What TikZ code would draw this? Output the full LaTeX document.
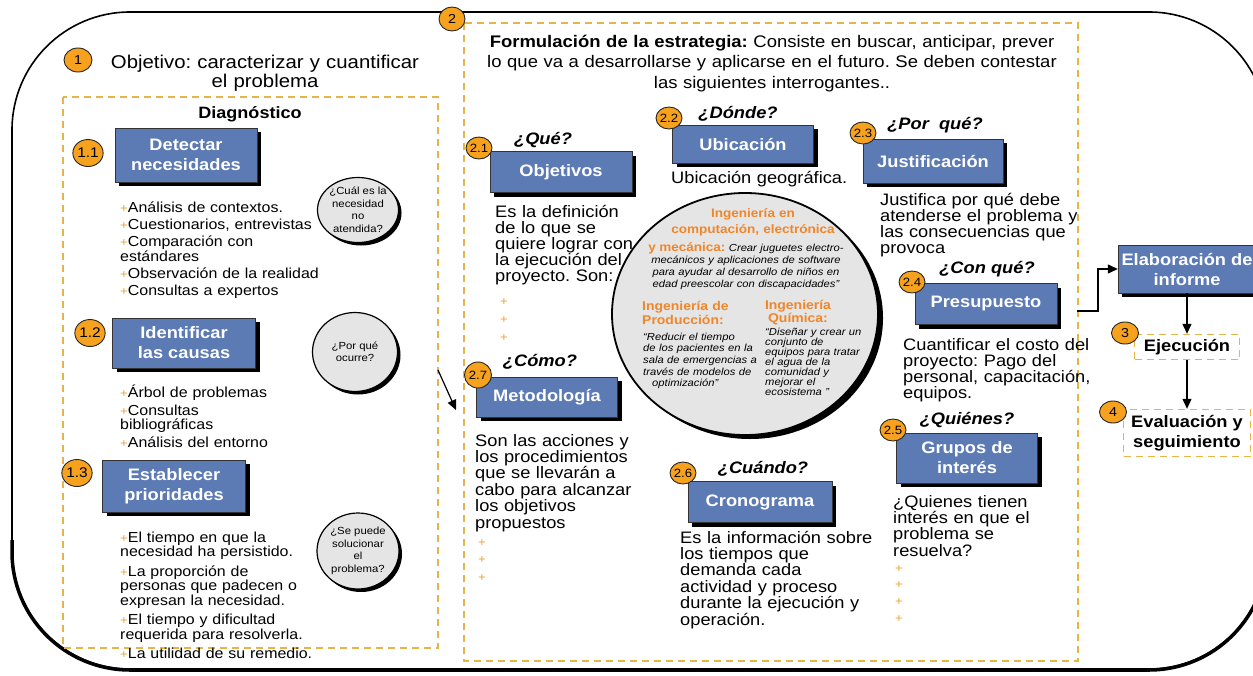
\documentclass[tikz,border=0pt]{standalone}
\usepackage{fontspec}
\setmainfont{Liberation Sans}[FakeStretch=1.1]
\usetikzlibrary{shapes.geometric,shadows,arrows.meta,positioning}

\definecolor{cajaazul}{HTML}{5C7AB4}
\definecolor{numnaranja}{HTML}{F6A21E}
\definecolor{marcooro}{HTML}{E6B548}
\definecolor{masnaranja}{HTML}{E9A43E}
\definecolor{ingnaranja}{HTML}{F0862A}
\definecolor{burbujagris}{HTML}{E5E5E5}

\newcommand{\tam}[2]{\fontsize{#1}{#2}\selectfont}
\newcommand{\mas}{{\color{masnaranja}\tam{12}{12}+}}
\frenchspacing

\begin{document}
\begin{tikzpicture}[x=1pt,y=-1pt,
    caja/.style={rectangle,draw=black!80,fill=cajaazul,text=white,
      font=\tam{16.6}{20}\bfseries,align=center,inner sep=1pt,
      minimum width=142pt,minimum height=41pt,
      drop shadow={shadow xshift=4pt,shadow yshift=-4pt,fill=black,opacity=1}},
    num/.style={ellipse,draw=black!85,line width=0.9pt,fill=numnaranja,
      minimum width=24pt,minimum height=22pt,inner sep=0pt,font=\tam{12}{12}},
    burbuja/.style={ellipse,draw=black,line width=1.2pt,fill=burbujagris,
      align=center,inner sep=0pt,font=\tam{10.3}{12.5},
      drop shadow={shadow xshift=3pt,shadow yshift=-3pt,fill=black,opacity=1}},
    marco/.style={draw=marcooro,line width=1.4pt,dash pattern=on 7pt off 5pt},
    pregunta/.style={anchor=base,font=\tam{16.6}{20}\bfseries\itshape},
    texto/.style={anchor=base west,align=left,text width=300pt,inner sep=0pt},
    centrado/.style={anchor=base,align=center,text width=#1,inner sep=0pt},
    flecha/.style={-{Triangle[length=10pt,width=9pt]},line width=1.2pt}]

  \useasboundingbox (0,0) rectangle (1253,675);

  % contorno general
  \draw[line width=1.6pt,rounded corners=118pt] (12,12) rectangle (1267,669);
  \draw[line width=3.5pt,rounded corners=118pt] (12,540) -- (12,670) -- (1267,670) -- (1267,540);

  % marcos punteados
  \draw[marco] (63,97) rectangle (438,648);
  \draw[marco] (464,23) rectangle (1078,661);

  % 1: diagnostico
  \path (78,60) node(n1) [num,minimum width=28pt,minimum height=24pt,font=\tam{13}{13}] {1}
  (265,68) node(objetivo) [centrado=360pt,font=\tam{18.5}{19}] {Objetivo: caracterizar y cuantificar\\el problema}
  (250,118) node(diagnostico) [anchor=base,font=\tam{16.4}{18}\bfseries] {Diagnóstico};

  \path (88,153) node(n11) [num,minimum width=30pt,minimum height=27pt,font=\tam{14}{14}] {1.1}
  (186,155) node(detectar) [caja,minimum height=54pt] {Detectar\\necesidades}
  (358,210) node(cual) [burbuja,minimum width=80pt,minimum height=65pt] {¿Cuál es la\\necesidad\\no\\atendida?}
  (120,212) node(lista1) [texto,font=\tam{14.5}{15}]
    {\mas Análisis de contextos.\\[2pt]\mas Cuestionarios, entrevistas\\[2pt]\mas Comparación con\\estándares\\[2pt]\mas Observación de la realidad\\[2pt]\mas Consultas a expertos};

  \path (90,333) node(n12) [num,minimum width=30pt,minimum height=27pt,font=\tam{14}{14}] {1.2}
  (184,343) node(identificar) [caja,minimum width=143pt,minimum height=50pt] {Identificar\\las causas}
  (355,352) node(porque) [burbuja,minimum width=85pt,minimum height=79pt] {¿Por qué\\ocurre?}
  (120,397) node(lista2) [texto,font=\tam{14.5}{14}]
    {\mas Árbol de problemas\\[4pt]\mas Consultas\\bibliográficas\\[4pt]\mas Análisis del entorno};

  \path (77,473) node(n13) [num,minimum width=30pt,minimum height=27pt,font=\tam{14}{14}] {1.3}
  (174,486) node(establecer) [caja,minimum width=143pt,minimum height=52pt] {Establecer\\prioridades}
  (358,551) node(sepuede) [burbuja,minimum width=82pt,minimum height=76pt] {¿Se puede\\solucionar\\el\\problema?}
  (120,542) node(lista3) [texto,font=\tam{14.5}{13.5}]
    {\mas El tiempo en que la\\necesidad ha persistido.\\[5pt]\mas La proporción de\\personas que padecen o\\expresan la necesidad.\\[5pt]\mas El tiempo y dificultad\\requerida para resolverla.\\[5pt]\mas La utilidad de su remedio.};

  \coordinate (paso1) at (438,370);
  \coordinate (paso2) at (456,410);
  \path (paso1) edge[flecha] (paso2);

  % 2: formulacion de la estrategia
  \path (452,19) node(n2) [num,minimum width=26pt,minimum height=24pt,font=\tam{13}{13}] {2}
  (772,47) node(formulacion) [centrado=620pt,font=\tam{16.8}{20.5}]
    {\textbf{Formulación de la estrategia:} Consiste en buscar, anticipar, prever\\lo que va a desarrollarse y aplicarse en el futuro. Se deben contestar\\las siguientes interrogantes..};

  % circulo central
  \path (745,314) node(circulo) [ellipse,draw=black,line width=1.8pt,fill=burbujagris,
    minimum width=266pt,minimum height=242pt,
    drop shadow={shadow xshift=5pt,shadow yshift=-4pt,fill=black,opacity=1}] {};
  \path (753,217) node(ingcomp) [centrado=220pt,text=ingnaranja,font=\tam{12.3}{16}\bfseries]
    {Ingeniería en\\computación, electrónica}
  (746,251) node(ingcomptxt) [centrado=260pt,font=\tam{10.2}{12}\itshape]
    {{\color{ingnaranja}\tam{12.3}{12}\bfseries\upshape y mecánica:} Crear juguetes electro-\\mecánicos y aplicaciones de software\\para ayudar al desarrollo de niños en\\edad preescolar con discapacidades”}
  (642,310) node(ingprod) [texto,text=ingnaranja,font=\tam{12.7}{14.5}\bfseries] {Ingeniería de\\Producción:}
  (643,340) node(ingprodtxt) [texto,font=\tam{10.2}{11.7}\itshape]
    {“Reducir el tiempo\\de los pacientes en la\\sala de emergencias a\\través de modelos de\\\hspace*{9pt}optimización”}
  (798,309) node(ingquim) [centrado=90pt,text=ingnaranja,font=\tam{12.7}{12}\bfseries] {Ingeniería\\Química:}
  (765,335) node(ingquimtxt) [texto,font=\tam{10.2}{10.1}\itshape]
    {“Diseñar y crear un\\conjunto de\\equipos para tratar\\el agua de la\\comunidad y\\mejorar el\\ecosistema ”};

  % 2.1 objetivos
  \path (543,144) node(que) [pregunta] {¿Qué?}
  (561,172) node(objetivos) [caja] {Objetivos}
  (479,148) node(n21) [num] {2.1}
  (495,217) node(objtxt) [texto,font=\tam{16.6}{16}]
    {Es la definición\\de lo que se\\quiere lograr con\\la ejecución del\\proyecto. Son:}
  (500,305) node(objmas) [texto,font=\tam{12}{18}] {\mas\\\mas\\\mas};

  % 2.2 ubicacion
  \path (738,118) node(donde) [pregunta] {¿Dónde?}
  (743,144) node(ubicacion) [caja,minimum width=141pt,minimum height=38pt] {Ubicación}
  (669,118) node(n22) [num] {2.2}
  (671,183) node(ubictxt) [texto,font=\tam{16.6}{16}] {Ubicación geográfica.};

  % 2.3 justificacion
  \path (935,129) node(porquep) [pregunta] {¿Por\ \ qué?}
  (933,161) node(justificacion) [caja,minimum width=140pt,minimum height=44pt] {Justificación}
  (863,133) node(n23) [num] {2.3}
  (880,205) node(justtxt) [texto,font=\tam{16.6}{16}]
    {Justifica por qué debe\\atenderse el problema y\\las consecuencias que\\provoca};

  % 2.4 presupuesto
  \path (987,273) node(conque) [pregunta] {¿Con qué?}
  (986,304) node(presupuesto) [caja] {Presupuesto}
  (912,282) node(n24) [num] {2.4}
  (903,350) node(prestxt) [texto,font=\tam{16.6}{16}]
    {Cuantificar el costo del\\proyecto: Pago del\\personal, capacitación,\\equipos.};

  % 2.5 grupos de interes
  \path (967,424) node(quienes) [pregunta] {¿Quiénes?}
  (967,458) node(grupos) [caja,minimum width=141pt,minimum height=50pt] {Grupos de\\interés}
  (893,430) node(n25) [num] {2.5}
  (893,507) node(grupostxt) [texto,font=\tam{16.6}{15}]
    {¿Quienes tienen\\interés en que el\\problema se\\resuelva?}
  (895,572) node(gruposmas) [texto,font=\tam{12}{16.7}] {\mas\\\mas\\\mas\\\mas};

  % 2.6 cronograma
  \path (763,473) node(cuando) [pregunta] {¿Cuándo?}
  (760,502) node(cronograma) [caja,minimum width=144pt] {Cronograma}
  (683,473) node(n26) [num] {2.6}
  (680,543) node(cronotxt) [texto,font=\tam{16.6}{16.4}]
    {Es la información sobre\\los tiempos que\\demanda cada\\actividad y proceso\\durante la ejecución y\\operación.};

  % 2.7 metodologia
  \path (540,366) node(como) [pregunta] {¿Cómo?}
  (547,397) node(metodologia) [caja,minimum width=141pt,minimum height=40pt] {Metodología}
  (478,375) node(n27) [num,minimum width=27pt,minimum height=26pt] {2.7}
  (475,446) node(metodotxt) [texto,font=\tam{16.6}{16.4}]
    {Son las acciones y\\los procedimientos\\que se llevarán a\\cabo para alcanzar\\los objetivos\\propuestos}
  (478,546) node(metodomas) [texto,font=\tam{12}{17.5}] {\mas\\\mas\\\mas};

  % 3 y 4
  \path (1187,269) node(informe) [caja,minimum width=138pt,minimum height=48pt] {Elaboración de\\informe}
  (1187,347) node(ejecucion) [marco,minimum width=105pt,minimum height=25pt,inner sep=1pt,
    font=\tam{16.6}{20}\bfseries] {Ejecución}
  (1125,333) node(n3) [num,minimum width=27pt,minimum height=22pt,font=\tam{13}{13}] {3}
  (1187,433) node(evaluacion) [marco,minimum width=127pt,minimum height=47pt,inner sep=1pt,
    align=center,font=\tam{16.6}{20}\bfseries] {Evaluación y\\seguimiento}
  (1113,412) node(n4) [num,minimum width=27pt,minimum height=22pt,font=\tam{13}{13}] {4};

  \coordinate (salida) at (1077,311);
  \draw[flecha] (salida) -- ++(21,0) |- (informe.west);
  \path (informe) edge[flecha] (ejecucion)
  (ejecucion) edge[flecha] (evaluacion);

\end{tikzpicture}
\end{document}
